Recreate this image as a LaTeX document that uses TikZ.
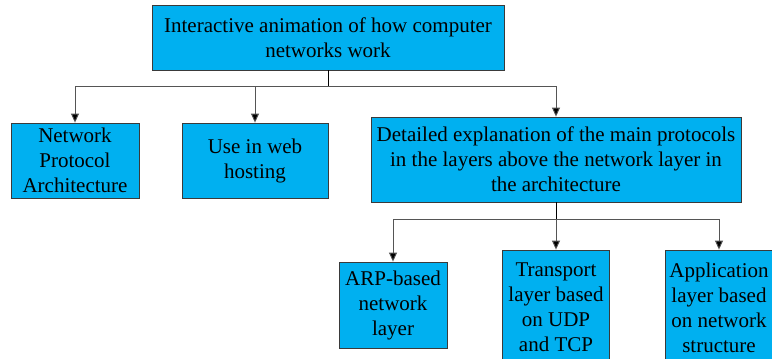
\documentclass[tikz,border=0pt]{standalone}
\usepackage{fontspec}
\newfontfamily\timesfont{LiberationSerif-Regular.ttf}
\usetikzlibrary{arrows.meta}
\definecolor{boxblue}{HTML}{00B0F0}
\definecolor{edgegray}{HTML}{3A3A3A}
\definecolor{linegray}{HTML}{555555}
\tikzset{
  box/.style={draw=edgegray, line width=0.8pt, fill=boxblue, align=center,
    font=\timesfont\fontsize{21}{25}\selectfont, inner sep=0pt},
  conn/.style={draw=linegray, line width=0.9pt, -{Triangle[length=9pt,width=8pt,fill=black]}},
}
\begin{document}
\begin{tikzpicture}[x=1pt,y=-1pt]
\clip (0,0) rectangle (772,359);
\fill[white] (0,0) rectangle (772,359);
\node[box, minimum width=352pt, minimum height=65pt] (top) at (328,37.5)
  {Interactive animation of how computer\\networks work};
\node[box, minimum width=128pt, minimum height=75pt] (b1) at (75,160.5)
  {Network\\Protocol\\Architecture};
\node[box, minimum width=146pt, minimum height=75pt] (b2) at (255,160.5)
  {Use in web\\hosting};
\node[box, minimum width=370pt, minimum height=85pt] (b3) at (556,159.5)
  {Detailed explanation of the main protocols\\in the layers above the network layer in\\the architecture};
\node[box, minimum width=108pt, minimum height=86pt] (c1) at (393,305)
  {ARP-based\\network\\layer};
\node[box, minimum width=107pt, minimum height=115pt] (c2) at (556,307.5)
  {Transport\\layer based\\on UDP\\and TCP};
\node[box, minimum width=108pt, minimum height=115pt] (c3) at (719,307.5)
  {Application\\layer based\\on network\\structure};
\coordinate (j1) at (328,86);
\coordinate (j2) at (556,219);
\draw[line width=1pt] (top.south) -- (j1);
\draw[conn] (j1) -| (b1.north);
\draw[conn] (j1) -| (b2.north);
\draw[conn] (j1) -| (b3.north);
\draw[line width=1pt] (b3.south) -- (j2);
\draw[conn] (j2) -| (c1.north);
\draw[conn] (j2) -- (c2.north);
\draw[conn] (j2) -| (c3.north);
\end{tikzpicture}
\end{document}
